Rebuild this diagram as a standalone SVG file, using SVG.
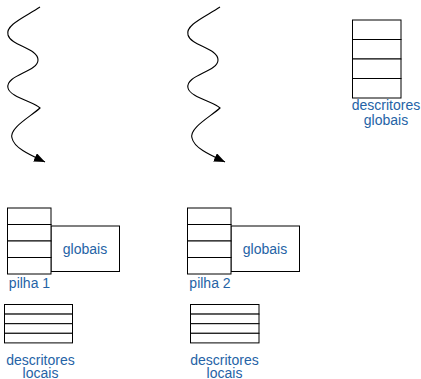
<svg xmlns="http://www.w3.org/2000/svg" width="421" height="379" viewBox="0 0 421 379">
  <defs>
    <marker id="head" markerUnits="userSpaceOnUse" markerWidth="12" markerHeight="10" refX="11" refY="4.5" orient="auto">
      <path d="M0,0 L11,4.5 L0,9 z" fill="#000"/>
    </marker>
    <style>
      .cell { fill: #fff; stroke: #000; stroke-width: 1; }
      .wave { fill: none; stroke: #000; stroke-width: 1.1; }
      .lbl { font-family: "Liberation Sans", Arial, sans-serif; font-size: 14px; fill: #2563a6; text-anchor: middle; }
    </style>
  </defs>

  <!-- threads (wavy arrows) -->
  <g id="connectors">
    <path id="thread1" class="wave" marker-end="url(#head)"
          d="M40,7 C25,17 5,25 8,35 C11,46 38,48 38,60 C38,72 5,75 8,88 C10,97 34,102 40,108 C30,117 9,128 12,138 C14,148 30,155 45,162"/>
    <path id="thread2" class="wave" marker-end="url(#head)" transform="translate(180,0)"
          d="M40,7 C25,17 5,25 8,35 C11,46 38,48 38,60 C38,72 5,75 8,88 C10,97 34,102 40,108 C30,117 9,128 12,138 C14,148 30,155 45,162"/>
  </g>

  <!-- global descriptor table -->
  <g id="descritores-globais">
    <rect class="cell" x="352.5" y="20" width="48.5" height="19.5"/>
    <rect class="cell" x="352.5" y="39.5" width="48.5" height="19.5"/>
    <rect class="cell" x="352.5" y="59" width="48.5" height="19.5"/>
    <rect class="cell" x="352.5" y="78.5" width="48.5" height="19.5"/>
    <text class="lbl" x="386" y="110">descritores</text>
    <text class="lbl" x="386" y="124.5">globais</text>
  </g>

  <!-- globals area, thread 1 -->
  <g id="globais-1">
    <rect class="cell" x="51" y="226" width="68.5" height="45.5"/>
    <text class="lbl" x="85" y="254">globais</text>
  </g>

  <!-- stack, thread 1 -->
  <g id="pilha-1">
    <rect class="cell" x="7.5" y="208" width="43.5" height="16.5"/>
    <rect class="cell" x="7.5" y="224.5" width="43.5" height="16.5"/>
    <rect class="cell" x="7.5" y="241" width="43.5" height="16.5"/>
    <rect class="cell" x="7.5" y="257.5" width="43.5" height="16.5"/>
    <text class="lbl" x="29.5" y="288">pilha 1</text>
  </g>

  <!-- local descriptor table, thread 1 -->
  <g id="descritores-locais-1">
    <rect class="cell" x="4.5" y="304.5" width="68" height="9.6"/>
    <rect class="cell" x="4.5" y="314.1" width="68" height="9.6"/>
    <rect class="cell" x="4.5" y="323.7" width="68" height="9.6"/>
    <rect class="cell" x="4.5" y="333.3" width="68" height="9.6"/>
    <text class="lbl" x="40.5" y="364.5">descritores</text>
    <text class="lbl" x="40.5" y="377.5">locais</text>
  </g>

  <!-- globals area, thread 2 -->
  <g id="globais-2">
    <rect class="cell" x="231" y="226" width="68.5" height="45.5"/>
    <text class="lbl" x="265" y="254">globais</text>
  </g>

  <!-- stack, thread 2 -->
  <g id="pilha-2">
    <rect class="cell" x="187.5" y="208" width="43.5" height="16.5"/>
    <rect class="cell" x="187.5" y="224.5" width="43.5" height="16.5"/>
    <rect class="cell" x="187.5" y="241" width="43.5" height="16.5"/>
    <rect class="cell" x="187.5" y="257.5" width="43.5" height="16.5"/>
    <text class="lbl" x="210" y="288">pilha 2</text>
  </g>

  <!-- local descriptor table, thread 2 -->
  <g id="descritores-locais-2">
    <rect class="cell" x="190.5" y="304.5" width="68.5" height="9.6"/>
    <rect class="cell" x="190.5" y="314.1" width="68.5" height="9.6"/>
    <rect class="cell" x="190.5" y="323.7" width="68.5" height="9.6"/>
    <rect class="cell" x="190.5" y="333.3" width="68.5" height="9.6"/>
    <text class="lbl" x="224.5" y="364.5">descritores</text>
    <text class="lbl" x="224.5" y="377.5">locais</text>
  </g>
</svg>
